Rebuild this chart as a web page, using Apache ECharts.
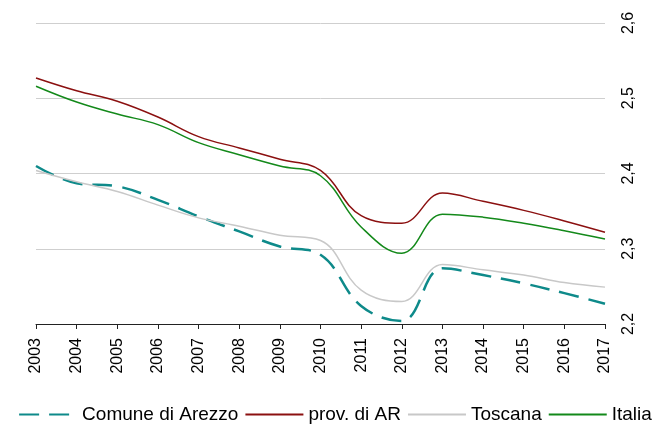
<!DOCTYPE html>
<html>
	<head>
		<meta charset="utf-8">
		<script src="https://cdn.jsdelivr.net/npm/echarts@6/dist/echarts.min.js"></script>
		<title>Arezzo</title>
		<style>
			body { margin: 0; background: #fff; }
		</style>
	</head>
	<body>
		<div id="main" style="width: 670px;height:436px;"></div>
		<script type="text/javascript">
			var anni = ['2003', '2004', '2005', '2006', '2007', '2008', '2009', '2010',
				'2011', '2012', '2013', '2014', '2015', '2016', '2017'];
			var comune = [2.410, 2.387, 2.383, 2.365, 2.343, 2.323, 2.303, 2.292,
				2.224, 2.204, 2.274, 2.265, 2.254, 2.241, 2.227];
			var provincia = [2.527, 2.510, 2.496, 2.475, 2.449, 2.434, 2.419, 2.404,
				2.344, 2.334, 2.374, 2.363, 2.351, 2.337, 2.322];
			var toscana = [2.404, 2.389, 2.376, 2.358, 2.341, 2.330, 2.318, 2.311,
				2.245, 2.230, 2.279, 2.272, 2.265, 2.255, 2.249];
			var italia = [2.516, 2.495, 2.479, 2.465, 2.441, 2.425, 2.410, 2.397,
				2.329, 2.294, 2.346, 2.342, 2.334, 2.324, 2.313];
			var yTicks = ['2,2', '2,3', '2,4', '2,5', '2,6'];

			var myChart = echarts.init(document.getElementById('main'));
			var font = 'Liberation Sans, Arial, sans-serif';

			function serie(nome, dati, colore, spessore, tipo) {
				return {
					name: nome,
					type: 'line',
					data: dati,
					smooth: 0.4,
					symbol: 'none',
					lineStyle: { color: colore, width: spessore, type: tipo },
					itemStyle: { color: colore }
				};
			}

			myChart.setOption({
				backgroundColor: '#fff',
				animation: false,
				textStyle: { fontFamily: font },
				grid: { left: 36, right: 65, top: 23, bottom: 112 },
				legend: {
					bottom: 7,
					left: 'center',
					itemWidth: 58,
					itemHeight: 12,
					itemGap: 6,
					itemStyle: { opacity: 0 },
					textStyle: { fontSize: 19, color: '#000', fontFamily: font },
					data: ['Comune di Arezzo', 'prov. di AR', 'Toscana', 'Italia']
				},
				xAxis: {
					type: 'category',
					data: anni,
					boundaryGap: false,
					axisLine: { lineStyle: { color: '#222', width: 1 } },
					axisTick: { show: true, length: 5, lineStyle: { color: '#222' } },
					axisLabel: { rotate: 90, margin: 14, fontSize: 16, color: '#000', fontFamily: font },
					splitLine: { show: false }
				},
				yAxis: {
					type: 'value',
					position: 'right',
					min: 2.2,
					max: 2.6,
					interval: 0.1,
					axisLine: { show: false },
					axisTick: { show: false },
					axisLabel: {
						rotate: 90,
						margin: 16,
						fontSize: 16,
						color: '#000',
						fontFamily: font,
						formatter: function (v) {
							return yTicks[Math.round((v - 2.2) * 10)];
						}
					},
					splitLine: { lineStyle: { color: '#cfcfcf', width: 1 } }
				},
				series: [
					serie('Comune di Arezzo', comune, '#0e8a8a', 2.5, [20, 10]),
					serie('prov. di AR', provincia, '#8b1010', 1.5, 'solid'),
					serie('Toscana', toscana, '#c8c8c8', 1.5, 'solid'),
					serie('Italia', italia, '#13891a', 1.5, 'solid')
				]
			});
		</script>
	</body>
</html>
